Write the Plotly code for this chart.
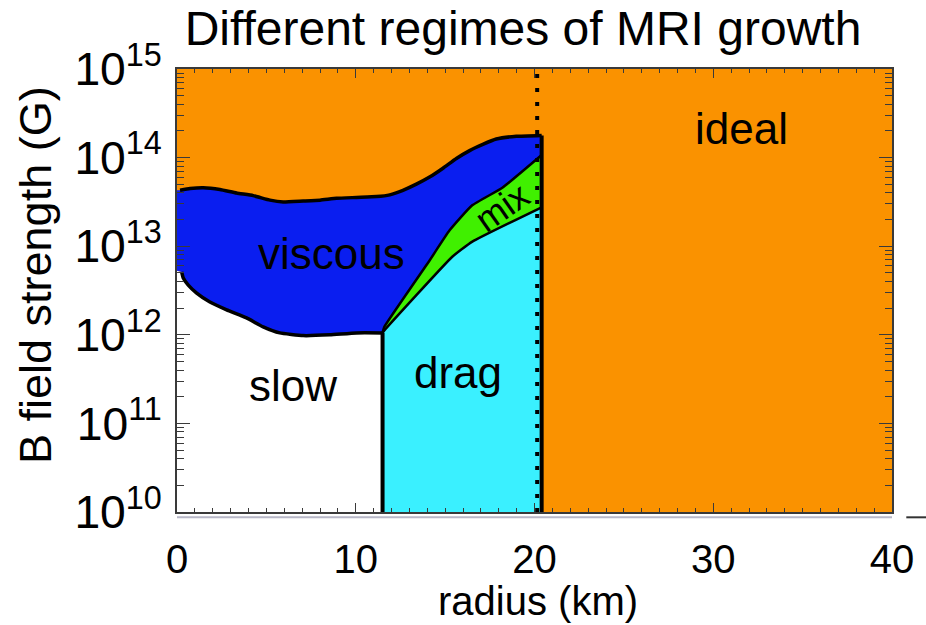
import plotly.graph_objects as go

# ---- data (radius in km, B in Gauss) ----
visc_top_r = [0.0, 0.17, 0.73, 1.47, 2.40, 3.33, 4.26, 5.20, 5.94, 7.06, 8.0, 8.93, 10.04, 11.16,
              11.90, 12.64, 13.39, 14.13, 14.88, 15.63, 16.37, 17.11, 17.86, 18.98, 20.4]
visc_top_B = [4.27e13, 4.27e13, 4.47e13, 4.57e13, 4.37e13, 3.98e13, 3.72e13, 3.31e13, 3.16e13, 3.24e13,
              3.31e13, 3.47e13, 3.55e13, 3.63e13, 3.80e13, 4.27e13, 5.01e13, 6.03e13, 7.59e13, 9.77e13,
              1.20e14, 1.41e14, 1.62e14, 1.74e14, 1.78e14]

visc_bot_r = [0.0, 0.26, 0.35, 0.63, 1.10, 1.84, 2.78, 3.89, 4.82, 5.75, 7.06, 8.55, 10.04, 11.5]
visc_bot_B = [5.3e12, 5.13e12, 4.37e12, 3.63e12, 2.95e12, 2.34e12, 1.91e12, 1.55e12, 1.23e12, 1.05e12,
              9.8e11, 1.0e12, 1.05e12, 1.05e12]

drag_top_r = [11.5, 11.6, 15.4, 16.5, 20.4]
drag_top_B = [1.05e12, 1.12e12, 7.6e12, 1.12e13, 2.75e13]

mix_top_r = [11.5, 11.6, 14.13, 15.25, 16.5, 18.2, 20.4]
mix_top_B = [1.05e12, 1.23e12, 6.9e12, 1.51e13, 2.88e13, 4.57e13, 1.07e14]

r_edge = 20.4        # right edge of non-ideal regimes
r_dotted = 20.15     # dotted vertical line
B_min, B_max = 1e10, 1e15
r_min, r_max = 0, 40

labels = ["viscous", "drag", "slow", "ideal", "mix"]
label_r = [8.66, 15.7, 6.48, 31.56, 18.16]
label_logB = [12.92, 11.58, 11.43, 14.33, 13.44]
label_angle = [0, 0, 0, 0, -35]

ORANGE = "#FA9200"
BLUE = "#0A1EF0"
CYAN = "#3AF0FF"
GREEN = "#40F000"
FONT = "Liberation Sans"

fig = go.Figure()

def poly(xs, ys, color):
    fig.add_trace(go.Scatter(x=xs, y=ys, fill="toself", fillcolor=color, mode="lines",
                             line=dict(width=0, color=color), hoverinfo="skip", showlegend=False))

def bline(xs, ys, w, dash="solid"):
    fig.add_trace(go.Scatter(x=xs, y=ys, mode="lines", line=dict(color="black", width=w, dash=dash, shape="spline", smoothing=0.4),
                             hoverinfo="skip", showlegend=False))

# slow region (white)
poly([0] + visc_bot_r + [visc_bot_r[-1]], [B_min] + visc_bot_B + [B_min], "white")
# viscous region (blue)
vx = visc_top_r + [r_edge] + mix_top_r[::-1] + visc_bot_r[::-1]
vy = visc_top_B + [mix_top_B[-1]] + mix_top_B[::-1] + visc_bot_B[::-1]
poly(vx, vy, BLUE)
# drag region (cyan)
poly([drag_top_r[0]] + drag_top_r + [r_edge], [B_min] + drag_top_B + [B_min], CYAN)
# mix region (green)
poly(drag_top_r + mix_top_r[::-1], drag_top_B + mix_top_B[::-1], GREEN)

# boundaries
bline(visc_top_r[1:], visc_top_B[1:], 3.5)
bline(visc_bot_r[1:], visc_bot_B[1:], 3.5)
bline(drag_top_r, drag_top_B, 2.5)
bline(mix_top_r, mix_top_B, 2.5)
bline([drag_top_r[0], drag_top_r[0]], [B_min, drag_top_B[0]], 4)
bline([r_dotted, r_dotted], [B_min, B_max], 4, dash="4px,10px")
bline([r_edge, r_edge], [B_min, visc_top_B[-1]], 4)

for t, x, y, a in zip(labels, label_r, label_logB, label_angle):
    fig.add_annotation(x=x, y=y, xref="x", yref="y", text=t, showarrow=False, textangle=a,
                       font=dict(size=44 if t != "mix" else 36, color="black", family=FONT))

# axis titles
fig.add_annotation(x=(538 - 177) / 715, y=(512 - 601) / 443, xref="paper", yref="paper",
                   text="radius (km)", showarrow=False, xanchor="center", yanchor="middle",
                   font=dict(size=40, family=FONT, color="black"))
fig.add_annotation(x=(35 - 177) / 715, y=(512 - 275) / 443, xref="paper", yref="paper",
                   text="B field strength (G)", showarrow=False, xanchor="center", yanchor="middle",
                   textangle=-90, font=dict(size=45, family=FONT, color="black"))

axcol = "#3a3a3a"
fig.update_xaxes(range=[r_min, r_max], tickmode="linear", tick0=0, dtick=10,
                 ticks="inside", ticklen=9, tickwidth=1.2, tickcolor=axcol,
                 minor=dict(dtick=1, ticks="inside", ticklen=4, tickcolor=axcol, tickwidth=1),
                 mirror="ticks", showline=True, linecolor=axcol, linewidth=1.5,
                 showgrid=False, zeroline=False, ticklabelstandoff=11, automargin=False,
                 tickfont=dict(size=40, family=FONT, color="black"))
fig.update_yaxes(type="log", range=[10, 15], dtick=1, exponentformat="power",
                 ticks="inside", ticklen=13, tickwidth=1.2, tickcolor=axcol,
                 minor=dict(dtick="D1", ticks="inside", ticklen=7, tickcolor=axcol, tickwidth=1),
                 mirror="ticks", showline=True, linecolor=axcol, linewidth=1.5,
                 showgrid=False, zeroline=False, ticklabelstandoff=6, automargin=False,
                 tickfont=dict(size=37, family=FONT, color="black"))

fig.update_layout(
    width=926, height=625,
    margin=dict(l=177, r=34, t=69, b=113),
    plot_bgcolor=ORANGE, paper_bgcolor="white",
    title=dict(text="Different regimes of MRI growth", x=523 / 926,
               xanchor="center", y=1 - 28 / 625, yanchor="middle", yref="container", xref="container",
               font=dict(size=48, family=FONT, color="black")),
    showlegend=False,
)
# faint double line below the x axis, as in the picture
fig.add_shape(type="line", xref="paper", yref="paper", x0=0, x1=1, y0=-0.012, y1=-0.012,
              line=dict(color="#b8b8c8", width=2))
fig.add_shape(type="line", xref="paper", yref="paper", x0=1.02, x1=1.05, y0=-0.012, y1=-0.012,
              line=dict(color="#333", width=2))

fig.write_html("out.html")
